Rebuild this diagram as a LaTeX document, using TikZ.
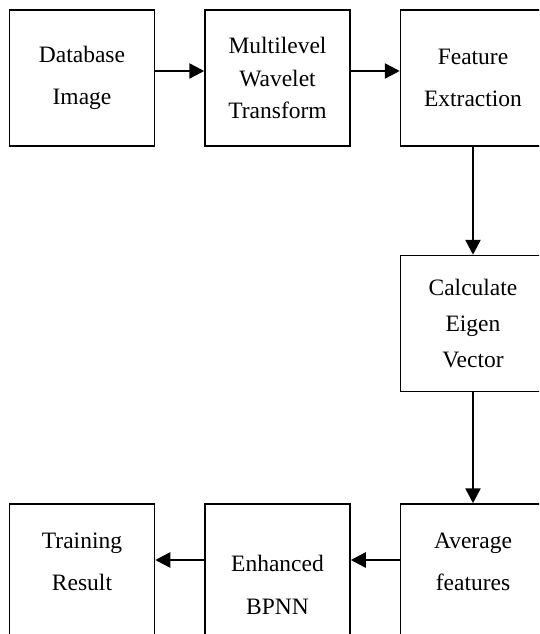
\documentclass[tikz,border=0pt]{standalone}
\usepackage{fontspec}
\setmainfont{Liberation Serif}
\usetikzlibrary{positioning,arrows.meta}

\begin{document}
\begin{tikzpicture}[x=1pt,y=1pt,
    stage/.style ={rectangle, draw, line width=1.5pt, minimum width=145pt, minimum height=136pt, inner sep=0pt, align=center, font=\fontsize{23.5}{42}\selectfont},
    flow/.style ={line width=2.5pt, -{Triangle[length=15pt,width=15pt]}}]
   \path[use as bounding box, clip] (0,0) rectangle (539,-634);
   \node[stage] (db) at (82,-78) {Database\\Image};
   \node[stage, font=\fontsize{23.5}{32.5}\selectfont] (mwt) [right=49pt of db] {Multilevel\\Wavelet\\Transform};
   \node[stage] (fe) [right=49pt of mwt] {Feature\\Extraction};
   \node[stage, font=\fontsize{23.5}{36}\selectfont] (eig) [below=108pt of fe] {Calculate\\Eigen\\Vector};
   \node[stage] (avg) [below=111pt of eig] {Average\\features\\[-22pt]\mbox{}};
   \node[stage, font=\fontsize{23.5}{43}\selectfont] (bpnn) [left=49pt of avg] {\mbox{}\\Enhanced\\BPNN};
   \node[stage] (res) [left=49pt of bpnn] {Training\\Result\\[-22pt]\mbox{}};

   \draw[flow] ([yshift=7pt]db.east) to ([yshift=7pt]mwt.west);
   \draw[flow] ([yshift=7pt]mwt.east) to ([yshift=7pt]fe.west);
   \draw[flow] (fe.south) to (eig.north);
   \draw[flow] (eig.south) to (avg.north);
   \draw[flow] ([yshift=12pt]avg.west) to ([yshift=12pt]bpnn.east);
   \draw[flow] ([yshift=12pt]bpnn.west) to ([yshift=12pt]res.east);
\end{tikzpicture}
\end{document}
